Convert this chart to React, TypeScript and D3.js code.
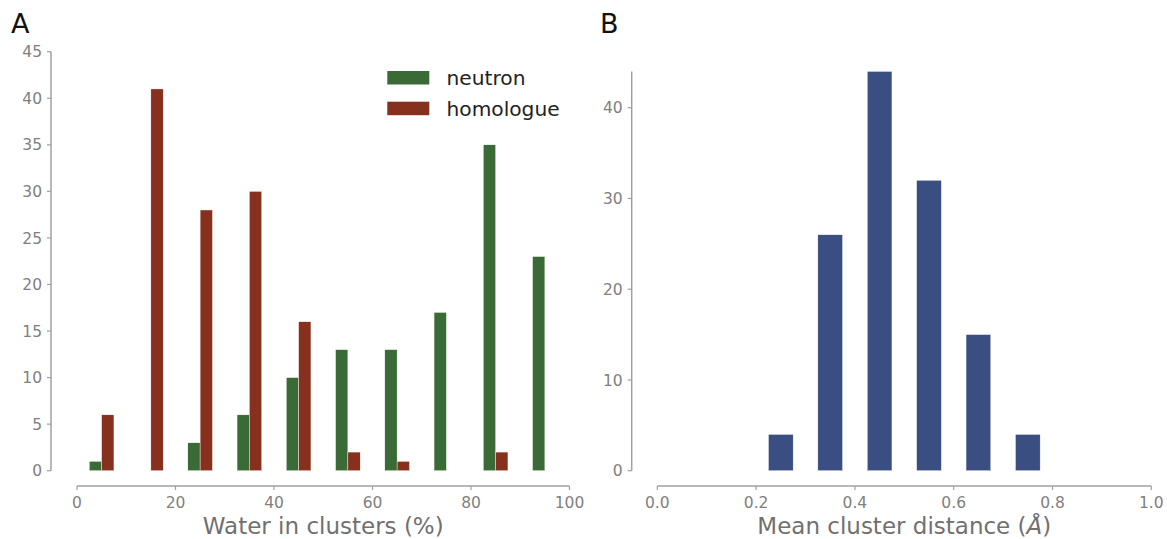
import React from "react";
import * as d3 from "d3";

const binCentersA = [5, 15, 25, 35, 45, 55, 65, 75, 85, 95];
const neutronCounts = [1, 0, 3, 6, 10, 13, 13, 17, 35, 23];
const homologueCounts = [6, 41, 28, 30, 16, 2, 1, 0, 2, 0];
const ticksAX = [0, 20, 40, 60, 80, 100];
const ticksAY = [0, 5, 10, 15, 20, 25, 30, 35, 40, 45];

const binCentersB = [0.25, 0.35, 0.45, 0.55, 0.65, 0.75];
const distanceCounts = [4, 26, 44, 32, 15, 4];
const ticksBX = [0.0, 0.2, 0.4, 0.6, 0.8, 1.0];
const ticksBY = [0, 10, 20, 30, 40];

const GREEN = "#3a6b36";
const RED = "#86301d";
const BLUE = "#3b4e82";
const AXIS = "#a0a0a0";
const TICKTXT = "#808080";
const LABELTXT = "#707070";
const FONT = "DejaVu Sans, sans-serif";
const TICKFS = 15.5;
const LABELFS = 23;

export default function App() {
  // Panel A scales
  const axA = d3.scaleLinear().domain([0, 100]).range([77, 569.5]);
  const ayA = d3.scaleLinear().domain([0, 45]).range([470.7, 51.7]);
  const yAxisXA = 51;
  const xAxisY = 486;

  // Panel B scales
  const axB = d3.scaleLinear().domain([0, 1]).range([657.3, 1151.3]);
  const ayB = d3.scaleLinear().domain([0, 40]).range([470.7, 107.7]);
  const yAxisXB = 631.7;
  const maxB = d3.max(distanceCounts) as number;

  const halfA = 2.5;
  const halfB = 0.025;

  return (
    <div style={{ position: "absolute", left: 0, top: 0 }}>
      <svg width={1167} height={539} style={{ display: "block", background: "#fff" }} fontFamily={FONT}>
        {/* Panel labels */}
        <text x={11} y={33.3} fontSize={27} fill="#111">A</text>
        <text x={600} y={33.3} fontSize={27} fill="#111">B</text>

        {/* ===== Panel A ===== */}
        {binCentersA.map((c, i) => (
          <g key={"a" + i}>
            {neutronCounts[i] > 0 && (
              <rect
                x={axA(c - halfA)}
                width={axA(c) - axA(c - halfA)}
                y={ayA(neutronCounts[i])}
                height={ayA(0) - ayA(neutronCounts[i])}
                fill={GREEN}
                stroke="#fff"
                strokeWidth={0.4}
              />
            )}
            {homologueCounts[i] > 0 && (
              <rect
                x={axA(c)}
                width={axA(c + halfA) - axA(c)}
                y={ayA(homologueCounts[i])}
                height={ayA(0) - ayA(homologueCounts[i])}
                fill={RED}
                stroke="#fff"
                strokeWidth={0.4}
              />
            )}
          </g>
        ))}
        {/* y axis A */}
        <line x1={yAxisXA} x2={yAxisXA} y1={ayA(45)} y2={ayA(0)} stroke={AXIS} strokeWidth={1.5} />
        {ticksAY.map((t) => (
          <g key={"ay" + t}>
            <line x1={yAxisXA - 4} x2={yAxisXA} y1={ayA(t)} y2={ayA(t)} stroke={AXIS} strokeWidth={1.2} />
            <text x={yAxisXA - 9} y={ayA(t)} dy="0.36em" textAnchor="end" fontSize={TICKFS} fill={TICKTXT}>
              {t}
            </text>
          </g>
        ))}
        {/* x axis A */}
        <line x1={axA(0)} x2={axA(100)} y1={xAxisY} y2={xAxisY} stroke={AXIS} strokeWidth={1.5} />
        {ticksAX.map((t) => (
          <g key={"ax" + t}>
            <line x1={axA(t)} x2={axA(t)} y1={xAxisY} y2={xAxisY + 4} stroke={AXIS} strokeWidth={1.2} />
            <text x={axA(t)} y={508} textAnchor="middle" fontSize={TICKFS} fill={TICKTXT}>
              {t}
            </text>
          </g>
        ))}
        <text x={(axA(0) + axA(100)) / 2} y={534} textAnchor="middle" fontSize={LABELFS} fill={LABELTXT}>
          Water in clusters (%)
        </text>
        {/* legend */}
        <rect x={387.3} y={71} width={42} height={13.5} fill={GREEN} />
        <text x={446.5} y={78} dy="0.35em" fontSize={20.2} fill="#222">neutron</text>
        <rect x={387.3} y={101.7} width={42} height={13.5} fill={RED} />
        <text x={446.5} y={108.5} dy="0.35em" fontSize={20.2} fill="#222">homologue</text>

        {/* ===== Panel B ===== */}
        {binCentersB.map((c, i) => (
          <rect
            key={"b" + i}
            x={axB(c - halfB)}
            width={axB(c + halfB) - axB(c - halfB)}
            y={ayB(distanceCounts[i])}
            height={ayB(0) - ayB(distanceCounts[i])}
            fill={BLUE}
            stroke="#fff"
            strokeWidth={0.4}
          />
        ))}
        <line x1={yAxisXB} x2={yAxisXB} y1={ayB(maxB)} y2={ayB(0)} stroke={AXIS} strokeWidth={1.5} />
        {ticksBY.map((t) => (
          <g key={"by" + t}>
            <line x1={yAxisXB - 4} x2={yAxisXB} y1={ayB(t)} y2={ayB(t)} stroke={AXIS} strokeWidth={1.2} />
            <text x={yAxisXB - 9} y={ayB(t)} dy="0.36em" textAnchor="end" fontSize={TICKFS} fill={TICKTXT}>
              {t}
            </text>
          </g>
        ))}
        <line x1={axB(0)} x2={axB(1)} y1={xAxisY} y2={xAxisY} stroke={AXIS} strokeWidth={1.5} />
        {ticksBX.map((t) => (
          <g key={"bx" + t}>
            <line x1={axB(t)} x2={axB(t)} y1={xAxisY} y2={xAxisY + 4} stroke={AXIS} strokeWidth={1.2} />
            <text x={axB(t)} y={508} textAnchor="middle" fontSize={TICKFS} fill={TICKTXT}>
              {d3.format(".1f")(t)}
            </text>
          </g>
        ))}
        <text x={(axB(0) + axB(1)) / 2} y={534} textAnchor="middle" fontSize={LABELFS} fill={LABELTXT}>
          Mean cluster distance (<tspan fontStyle="italic">Å</tspan>)
        </text>
      </svg>
    </div>
  );
}
